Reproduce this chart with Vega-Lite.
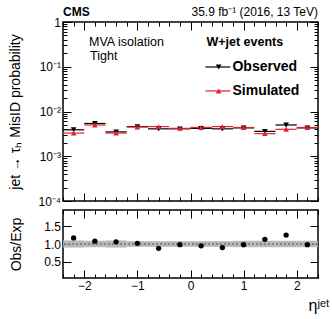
{
  "$schema": "https://vega.github.io/schema/vega-lite/v6.json",
  "padding": {"left": 8, "top": 5, "right": 5, "bottom": 2},
  "background": "white",
  "spacing": 0,
  "config": {
    "font": "Liberation Sans",
    "view": {"stroke": "black", "strokeWidth": 1.5},
    "axis": {"domain": false, "grid": false, "labelFont": "Liberation Sans", "labelFontSize": 12, "labelColor": "black", "tickColor": "black", "tickWidth": 1, "titleFont": "Liberation Sans", "titleFontWeight": "normal", "titleColor": "black", "titleFontSize": 14, "labelOverlap": false, "labelFlush": false},
    "text": {"font": "Liberation Sans", "color": "black"}
  },
  "datasets": {
    "top": [
      {"eta": -2.2, "lo": -2.4, "hi": -2.0, "series": "Observed", "val": 0.0039, "vlo": 0.00363, "vhi": 0.00417},
      {"eta": -1.8, "lo": -2.0, "hi": -1.6, "series": "Observed", "val": 0.0054, "vlo": 0.00502, "vhi": 0.00578},
      {"eta": -1.4, "lo": -1.6, "hi": -1.2, "series": "Observed", "val": 0.0035, "vlo": 0.00326, "vhi": 0.00375},
      {"eta": -1.0, "lo": -1.2, "hi": -0.8, "series": "Observed", "val": 0.0046, "vlo": 0.00428, "vhi": 0.00492},
      {"eta": -0.6, "lo": -0.8, "hi": -0.4, "series": "Observed", "val": 0.0041, "vlo": 0.00381, "vhi": 0.00439},
      {"eta": -0.2, "lo": -0.4, "hi": 0.0, "series": "Observed", "val": 0.0041, "vlo": 0.00381, "vhi": 0.00439},
      {"eta": 0.2, "lo": 0.0, "hi": 0.4, "series": "Observed", "val": 0.0042, "vlo": 0.00391, "vhi": 0.00449},
      {"eta": 0.6, "lo": 0.4, "hi": 0.8, "series": "Observed", "val": 0.0041, "vlo": 0.00381, "vhi": 0.00439},
      {"eta": 1.0, "lo": 0.8, "hi": 1.2, "series": "Observed", "val": 0.0043, "vlo": 0.0040, "vhi": 0.0046},
      {"eta": 1.4, "lo": 1.2, "hi": 1.6, "series": "Observed", "val": 0.0036, "vlo": 0.00335, "vhi": 0.00385},
      {"eta": 1.8, "lo": 1.6, "hi": 2.0, "series": "Observed", "val": 0.0050, "vlo": 0.00465, "vhi": 0.00535},
      {"eta": 2.2, "lo": 2.0, "hi": 2.4, "series": "Observed", "val": 0.0043, "vlo": 0.0040, "vhi": 0.0046},
      {"eta": -2.2, "lo": -2.4, "hi": -2.0, "series": "Simulated", "val": 0.0033, "vlo": 0.00314, "vhi": 0.00347},
      {"eta": -1.8, "lo": -2.0, "hi": -1.6, "series": "Simulated", "val": 0.0050, "vlo": 0.00475, "vhi": 0.00525},
      {"eta": -1.4, "lo": -1.6, "hi": -1.2, "series": "Simulated", "val": 0.0033, "vlo": 0.00314, "vhi": 0.00347},
      {"eta": -1.0, "lo": -1.2, "hi": -0.8, "series": "Simulated", "val": 0.0045, "vlo": 0.00428, "vhi": 0.00473},
      {"eta": -0.6, "lo": -0.8, "hi": -0.4, "series": "Simulated", "val": 0.0046, "vlo": 0.00437, "vhi": 0.00483},
      {"eta": -0.2, "lo": -0.4, "hi": 0.0, "series": "Simulated", "val": 0.0042, "vlo": 0.00399, "vhi": 0.00441},
      {"eta": 0.2, "lo": 0.0, "hi": 0.4, "series": "Simulated", "val": 0.0044, "vlo": 0.00418, "vhi": 0.00462},
      {"eta": 0.6, "lo": 0.4, "hi": 0.8, "series": "Simulated", "val": 0.0046, "vlo": 0.00437, "vhi": 0.00483},
      {"eta": 1.0, "lo": 0.8, "hi": 1.2, "series": "Simulated", "val": 0.0044, "vlo": 0.00418, "vhi": 0.00462},
      {"eta": 1.4, "lo": 1.2, "hi": 1.6, "series": "Simulated", "val": 0.0032, "vlo": 0.00304, "vhi": 0.00336},
      {"eta": 1.8, "lo": 1.6, "hi": 2.0, "series": "Simulated", "val": 0.0040, "vlo": 0.0038, "vhi": 0.0042},
      {"eta": 2.2, "lo": 2.0, "hi": 2.4, "series": "Simulated", "val": 0.0044, "vlo": 0.00418, "vhi": 0.00462}
    ],
    "ratio": [
      {"eta": -2.2, "lo": -2.4, "hi": -2.0, "r": 1.17, "blo": 0.90, "bhi": 1.10},
      {"eta": -1.8, "lo": -2.0, "hi": -1.6, "r": 1.08, "blo": 0.91, "bhi": 1.09},
      {"eta": -1.4, "lo": -1.6, "hi": -1.2, "r": 1.06, "blo": 0.90, "bhi": 1.10},
      {"eta": -1.0, "lo": -1.2, "hi": -0.8, "r": 1.02, "blo": 0.92, "bhi": 1.08},
      {"eta": -0.6, "lo": -0.8, "hi": -0.4, "r": 0.88, "blo": 0.92, "bhi": 1.08},
      {"eta": -0.2, "lo": -0.4, "hi": 0.0, "r": 0.98, "blo": 0.92, "bhi": 1.08},
      {"eta": 0.2, "lo": 0.0, "hi": 0.4, "r": 0.95, "blo": 0.92, "bhi": 1.08},
      {"eta": 0.6, "lo": 0.4, "hi": 0.8, "r": 0.90, "blo": 0.92, "bhi": 1.08},
      {"eta": 1.0, "lo": 0.8, "hi": 1.2, "r": 0.98, "blo": 0.91, "bhi": 1.09},
      {"eta": 1.4, "lo": 1.2, "hi": 1.6, "r": 1.13, "blo": 0.91, "bhi": 1.09},
      {"eta": 1.8, "lo": 1.6, "hi": 2.0, "r": 1.25, "blo": 0.91, "bhi": 1.09},
      {"eta": 2.2, "lo": 2.0, "hi": 2.4, "r": 0.98, "blo": 0.91, "bhi": 1.09}
    ]
  },
  "vconcat": [
    {
      "width": 255,
      "height": 179,
      "resolve": {"axis": {"x": "independent", "y": "independent"}},
      "layer": [
        {
          "data": {"name": "top"},
          "mark": {"type": "rule", "strokeWidth": 1.2},
          "encoding": {
            "x": {"field": "lo", "type": "quantitative", "scale": {"domain": [-2.4, 2.4], "nice": false, "zero": false},
              "axis": {"orient": "bottom", "title": null, "labels": false,
                "values": [-2.4,-2.2,-2,-1.8,-1.6,-1.4,-1.2,-1,-0.8,-0.6,-0.4,-0.2,0,0.2,0.4,0.6,0.8,1,1.2,1.4,1.6,1.8,2,2.2,2.4],
                "tickSize": {"condition": {"test": "abs(datum.value - round(datum.value)) < 0.001", "value": -8}, "value": -4}}},
            "x2": {"field": "hi"},
            "y": {"field": "val", "type": "quantitative", "scale": {"type": "log", "domain": [0.0001, 1], "nice": false},
              "axis": {"orient": "left", "title": "jet → τₕ MisID probability", "titlePadding": 15,
                "values": [0.0001,0.0002,0.0003,0.0004,0.0005,0.0006,0.0007,0.0008,0.0009,0.001,0.002,0.003,0.004,0.005,0.006,0.007,0.008,0.009,0.01,0.02,0.03,0.04,0.05,0.06,0.07,0.08,0.09,0.1,0.2,0.3,0.4,0.5,0.6,0.7,0.8,0.9,1],
                "labelExpr": "abs(log(datum.value)/LN10 - round(log(datum.value)/LN10)) > 0.001 ? '' : (round(log(datum.value)/LN10) == 0 ? '1' : (round(log(datum.value)/LN10) == -1 ? '10⁻¹' : (round(log(datum.value)/LN10) == -2 ? '10⁻²' : (round(log(datum.value)/LN10) == -3 ? '10⁻³' : '10⁻⁴'))))",
                "tickSize": {"condition": {"test": "abs(log(datum.value)/LN10 - round(log(datum.value)/LN10)) < 0.001", "value": -8}, "value": -4},
                "labelPadding": 10.5}},
            "color": {"field": "series", "type": "nominal", "scale": {"domain": ["Observed", "Simulated"], "range": ["black", "#e3212f"]}, "legend": null}
          }
        },
        {
          "data": {"name": "top"},
          "mark": {"type": "rule", "strokeWidth": 1.2},
          "encoding": {
            "x": {"field": "eta", "type": "quantitative",
              "axis": {"orient": "top", "title": null, "labels": false,
                "values": [-2.4,-2.2,-2,-1.8,-1.6,-1.4,-1.2,-1,-0.8,-0.6,-0.4,-0.2,0,0.2,0.4,0.6,0.8,1,1.2,1.4,1.6,1.8,2,2.2,2.4],
                "tickSize": {"condition": {"test": "abs(datum.value - round(datum.value)) < 0.001", "value": -8}, "value": -4}}},
            "y": {"field": "vlo", "type": "quantitative",
              "axis": {"orient": "right", "title": null, "labels": false,
                "values": [0.0001,0.0002,0.0003,0.0004,0.0005,0.0006,0.0007,0.0008,0.0009,0.001,0.002,0.003,0.004,0.005,0.006,0.007,0.008,0.009,0.01,0.02,0.03,0.04,0.05,0.06,0.07,0.08,0.09,0.1,0.2,0.3,0.4,0.5,0.6,0.7,0.8,0.9,1],
                "tickSize": {"condition": {"test": "abs(log(datum.value)/LN10 - round(log(datum.value)/LN10)) < 0.001", "value": -8}, "value": -4}}},
            "y2": {"field": "vhi"},
            "color": {"field": "series", "type": "nominal", "legend": null}
          }
        },
        {
          "data": {"name": "top"},
          "mark": {"type": "point", "filled": true, "opacity": 1, "size": 32},
          "encoding": {
            "x": {"field": "eta", "type": "quantitative", "axis": null},
            "y": {"field": "val", "type": "quantitative", "axis": null},
            "color": {"field": "series", "type": "nominal", "legend": null},
            "shape": {"field": "series", "type": "nominal", "scale": {"domain": ["Observed", "Simulated"], "range": ["triangle-down", "triangle-up"]}, "legend": null}
          }
        },
        {
          "data": {"values": [{"t": "MVA isolation"}]},
          "mark": {"type": "text", "align": "left", "baseline": "middle", "fontSize": 12.5},
          "encoding": {"x": {"datum": -1.91, "axis": null}, "y": {"datum": 0.357, "axis": null}, "text": {"field": "t"}}
        },
        {
          "data": {"values": [{"t": "Tight"}]},
          "mark": {"type": "text", "align": "left", "baseline": "middle", "fontSize": 12.5},
          "encoding": {"x": {"datum": -1.89, "axis": null}, "y": {"datum": 0.174, "axis": null}, "text": {"field": "t"}}
        },
        {
          "data": {"values": [{"t": "W+jet events"}]},
          "mark": {"type": "text", "align": "left", "baseline": "middle", "fontSize": 12.5, "fontWeight": "bold"},
          "encoding": {"x": {"datum": 0.30, "axis": null}, "y": {"datum": 0.357, "axis": null}, "text": {"field": "t"}}
        },
        {
          "data": {"values": [{"t": "Observed"}]},
          "mark": {"type": "rule", "color": "black", "strokeWidth": 1.2},
          "encoding": {"x": {"datum": 0.28, "axis": null}, "x2": {"datum": 0.75}, "y": {"datum": 0.0987, "axis": null}}
        },
        {
          "data": {"values": [{"t": "Observed"}]},
          "mark": {"type": "point", "shape": "triangle-down", "filled": true, "color": "black", "opacity": 1, "size": 32},
          "encoding": {"x": {"datum": 0.53, "axis": null}, "y": {"datum": 0.0987, "axis": null}}
        },
        {
          "data": {"values": [{"t": "Observed"}]},
          "mark": {"type": "text", "align": "left", "baseline": "middle", "fontSize": 14, "fontWeight": "bold"},
          "encoding": {"x": {"datum": 0.79, "axis": null}, "y": {"datum": 0.0987, "axis": null}, "text": {"field": "t"}}
        },
        {
          "data": {"values": [{"t": "Simulated"}]},
          "mark": {"type": "rule", "color": "#e3212f", "strokeWidth": 1.2},
          "encoding": {"x": {"datum": 0.28, "axis": null}, "x2": {"datum": 0.75}, "y": {"datum": 0.0288, "axis": null}}
        },
        {
          "data": {"values": [{"t": "Simulated"}]},
          "mark": {"type": "point", "shape": "triangle-up", "filled": true, "color": "#e3212f", "opacity": 1, "size": 32},
          "encoding": {"x": {"datum": 0.53, "axis": null}, "y": {"datum": 0.0288, "axis": null}}
        },
        {
          "data": {"values": [{"t": "Simulated"}]},
          "mark": {"type": "text", "align": "left", "baseline": "middle", "fontSize": 14, "fontWeight": "bold"},
          "encoding": {"x": {"datum": 0.79, "axis": null}, "y": {"datum": 0.0288, "axis": null}, "text": {"field": "t"}}
        },
        {
          "data": {"values": [{"t": "CMS"}]},
          "mark": {"type": "text", "align": "left", "baseline": "middle", "fontSize": 12, "fontWeight": "bold", "dy": -10},
          "encoding": {"x": {"datum": -2.4, "axis": null}, "y": {"datum": 1, "axis": null}, "text": {"field": "t"}}
        },
        {
          "data": {"values": [{"t": "35.9 fb⁻¹ (2016, 13 TeV)"}]},
          "mark": {"type": "text", "align": "right", "baseline": "middle", "fontSize": 12, "dy": -10},
          "encoding": {"x": {"datum": 2.4, "axis": null}, "y": {"datum": 1, "axis": null}, "text": {"field": "t"}}
        }
      ]
    },
    {
      "width": 255,
      "height": 68,
      "resolve": {"axis": {"x": "independent", "y": "independent"}},
      "layer": [
        {
          "data": {"name": "ratio"},
          "mark": {"type": "rect", "color": "#b0b0b0", "opacity": 0.9},
          "encoding": {
            "x": {"field": "lo", "type": "quantitative", "scale": {"domain": [-2.4, 2.4], "nice": false, "zero": false},
              "axis": {"orient": "bottom", "title": "ηʲᵉᵗ", "titleFontSize": 16, "titleX": 266, "titleAlign": "right", "titlePadding": 2,
                "values": [-2.4,-2.2,-2,-1.8,-1.6,-1.4,-1.2,-1,-0.8,-0.6,-0.4,-0.2,0,0.2,0.4,0.6,0.8,1,1.2,1.4,1.6,1.8,2,2.2,2.4],
                "labelExpr": "abs(datum.value - round(datum.value)) < 0.001 ? format(round(datum.value), 'd') : ''",
                "tickSize": {"condition": {"test": "abs(datum.value - round(datum.value)) < 0.001", "value": -8}, "value": -4},
                "labelPadding": 10}},
            "x2": {"field": "hi"},
            "y": {"field": "blo", "type": "quantitative", "scale": {"domain": [0.05, 1.95], "nice": false, "zero": false},
              "axis": {"orient": "left", "title": "Obs/Exp", "titlePadding": 20, "values": [0.5, 1.0, 1.5], "format": ".1f", "tickSize": -8, "labelPadding": 10.5}},
            "y2": {"field": "bhi"}
          }
        },
        {
          "data": {"values": [{"t": "one"}]},
          "mark": {"type": "rule", "color": "#555555", "strokeDash": [2, 2], "strokeWidth": 1},
          "encoding": {"y": {"datum": 1, "axis": null}}
        },
        {
          "data": {"name": "ratio"},
          "mark": {"type": "point", "shape": "circle", "filled": true, "color": "black", "opacity": 1, "size": 28},
          "encoding": {
            "x": {"field": "eta", "type": "quantitative",
              "axis": {"orient": "top", "title": null, "labels": false,
                "values": [-2.4,-2.2,-2,-1.8,-1.6,-1.4,-1.2,-1,-0.8,-0.6,-0.4,-0.2,0,0.2,0.4,0.6,0.8,1,1.2,1.4,1.6,1.8,2,2.2,2.4],
                "tickSize": {"condition": {"test": "abs(datum.value - round(datum.value)) < 0.001", "value": -8}, "value": -4}}},
            "y": {"field": "r", "type": "quantitative",
              "axis": {"orient": "right", "title": null, "labels": false, "values": [0.5, 1.0, 1.5], "tickSize": -8}}
          }
        }
      ]
    }
  ]
}
